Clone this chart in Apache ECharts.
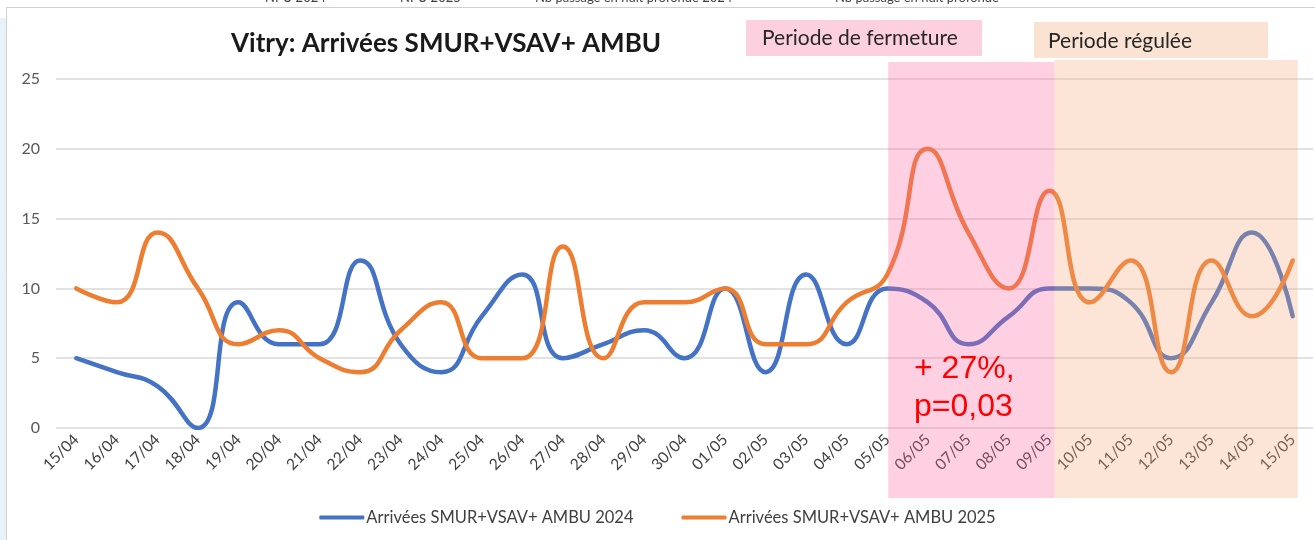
<!DOCTYPE html>
<html>
<head>
<meta charset="utf-8">
<script src="https://cdn.jsdelivr.net/npm/echarts@6/dist/echarts.min.js"></script>
<style>
  html, body { margin: 0; padding: 0; background: #fff; }
  #main { width: 1315px; height: 540px; }
</style>
</head>
<body>
<div id="main"></div>
<script>
// jours du 15/04 au 15/05
var dates = ['15/04','16/04','17/04','18/04','19/04','20/04','21/04','22/04','23/04','24/04',
  '25/04','26/04','27/04','28/04','29/04','30/04','01/05','02/05','03/05','04/05',
  '05/05','06/05','07/05','08/05','09/05','10/05','11/05','12/05','13/05','14/05','15/05'];
var arrivees2024 = [5,4,3,0,9,6,6,12,6,4,8,11,5,6,7,5,10,4,11,6,10,9,6,8,10,10,9,5,9,14,8];
var arrivees2025 = [10,9,14,10,6,7,5,4,7,9,5,5,13,5,9,9,10,6,6,9,11,20,14,10,17,9,12,4,12,8,12];
var yTicks = [0, 5, 10, 15, 20, 25];
var seriesNames = ['Arrivées SMUR+VSAV+ AMBU 2024', 'Arrivées SMUR+VSAV+ AMBU 2025'];
var topLegendCut = ['NPU 2024', 'NPU 2025', 'Nb passage en nuit profonde 2024', 'Nb passage en nuit profonde'];

var FONT = 'Lato, "Open Sans", sans-serif';
var chart = echarts.init(document.getElementById('main'));

var option = {
  animation: false,
  backgroundColor: '#fff',
  title: {
    text: 'Vitry: Arrivées SMUR+VSAV+ AMBU',
    left: 226, top: 26,
    textStyle: { fontFamily: FONT, fontSize: 26, fontWeight: 'bold', color: '#1a1a1a' }
  },
  grid: { left: 56, right: 2, top: 79, bottom: 112, containLabel: false },
  legend: {
    bottom: 9, left: 'center',
    itemWidth: 45, itemHeight: 4, itemGap: 48,
    icon: 'roundRect',
    textStyle: { fontFamily: FONT, fontSize: 16.5, color: '#404040', padding: [0, 0, 0, -3] },
    data: seriesNames
  },
  xAxis: {
    type: 'category',
    data: dates,
    boundaryGap: true,
    axisLine: { show: false },
    axisTick: { show: false },
    axisLabel: { rotate: 45, fontFamily: FONT, fontSize: 15.5, color: '#404040', margin: 9, interval: 0 }
  },
  yAxis: {
    type: 'value',
    min: yTicks[0], max: yTicks[yTicks.length - 1], interval: 5,
    axisLine: { show: false },
    axisTick: { show: false },
    axisLabel: { fontFamily: FONT, fontSize: 16, color: '#595959', margin: 16 },
    splitLine: { lineStyle: { color: '#d9d9d9', width: 1.5 } }
  },
  series: [
    {
      name: seriesNames[0], type: 'line', data: arrivees2024, smooth: 0.5,
      showSymbol: false, lineStyle: { color: '#4472C4', width: 4.5, cap: 'round' },
      itemStyle: { color: '#4472C4' }
    },
    {
      name: seriesNames[1], type: 'line', data: arrivees2025, smooth: 0.5,
      showSymbol: false, lineStyle: { color: '#ED7D31', width: 4.5, cap: 'round' },
      itemStyle: { color: '#ED7D31' }
    }
  ]
};
chart.setOption(option);

// zones superposées (fermeture / régulée) calées sur l'axe
var xStart = chart.convertToPixel({ xAxisIndex: 0 }, '05/05');
var xMid = chart.convertToPixel({ xAxisIndex: 0 }, '09/05') + 5;
var xEnd = chart.convertToPixel({ xAxisIndex: 0 }, '15/05') + 5;

var graphics = [
  // cadre
  { type: 'rect', z: 0, shape: { x: 0, y: 18, width: 6, height: 522 }, style: { fill: '#e6f1fa' } },
  { type: 'line', z: 1, shape: { x1: 6.5, y1: 7, x2: 6.5, y2: 540 }, style: { stroke: '#d0d0d0', lineWidth: 1 } },
  { type: 'line', z: 1, shape: { x1: 6, y1: 7.5, x2: 1315, y2: 7.5 }, style: { stroke: '#d0d0d0', lineWidth: 1 } },
  // zones
  { type: 'rect', z: 50, shape: { x: xStart + 1, y: 62, width: xMid - xStart - 1, height: 436 }, style: { fill: 'rgba(255,100,160,0.3)' } },
  { type: 'rect', z: 50, shape: { x: xMid, y: 60, width: xEnd - xMid, height: 438 }, style: { fill: 'rgba(244,170,120,0.3)' } },
  // étiquettes des zones
  { type: 'rect', z: 50, shape: { x: 746, y: 20, width: 236, height: 36 }, style: { fill: '#fdd0e0' } },
  { type: 'text', z: 51, left: 762, top: 28, style: { text: 'Periode de fermeture', fontFamily: FONT, fontSize: 21, fill: '#262626' } },
  { type: 'rect', z: 50, shape: { x: 1034, y: 22, width: 234, height: 36 }, style: { fill: '#fbe3d3' } },
  { type: 'text', z: 51, left: 1048, top: 31, style: { text: 'Periode régulée', fontFamily: FONT, fontSize: 21, fill: '#262626' } },
  // annotation
  { type: 'text', z: 60, left: 914, top: 350, style: { text: '+ 27%,\np=0,03', fontFamily: '"Liberation Sans", Arial, sans-serif', fontSize: 32, lineHeight: 38, fill: '#ff0000' } }
];
// légende coupée en haut de l'image
var cutX = [265, 400, 535, 835];
topLegendCut.forEach(function (t, i) {
  graphics.push({ type: 'text', z: 2, left: cutX[i], top: -9, style: { text: t, fontFamily: FONT, fontSize: 13, fill: '#404040' } });
});
chart.setOption({ graphic: graphics });
</script>
</body>
</html>
